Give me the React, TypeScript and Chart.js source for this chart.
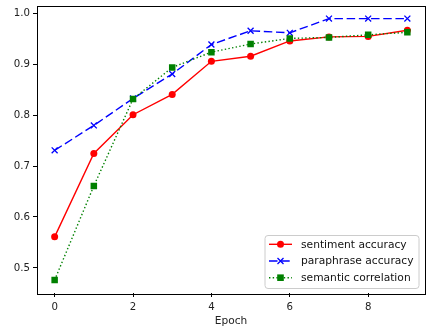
import React, { useEffect, useRef } from "react";
import { Chart, registerables } from "chart.js";

Chart.register(...registerables);

const epochs = [0, 1, 2, 3, 4, 5, 6, 7, 8, 9];
const sentimentAccuracy = [0.561, 0.725, 0.801, 0.841, 0.906, 0.916, 0.946, 0.954, 0.955, 0.967];
const paraphraseAccuracy = [0.731, 0.780, 0.833, 0.881, 0.939, 0.966, 0.962, 0.990, 0.990, 0.990];
const semanticCorrelation = [0.476, 0.661, 0.832, 0.894, 0.924, 0.940, 0.951, 0.953, 0.958, 0.963];
const xTicks = [0, 2, 4, 6, 8];
const yTicks = [0.5, 0.6, 0.7, 0.8, 0.9, 1.0];
const seriesNames = ["sentiment accuracy", "paraphrase accuracy", "semantic correlation"];
const xTitle = "Epoch";

const FONT = "DejaVu Sans";
const RED = "#ff0000";
const BLUE = "#0000ff";
const GREEN = "#008000";

function drawMarker(ctx: CanvasRenderingContext2D, style: string, x: number, y: number, color: string) {
  ctx.save();
  ctx.fillStyle = color;
  ctx.strokeStyle = color;
  ctx.setLineDash([]);
  if (style === "circle") {
    ctx.beginPath();
    ctx.arc(x, y, 3.5, 0, Math.PI * 2);
    ctx.fill();
  } else if (style === "rect") {
    ctx.fillRect(x - 3.3, y - 3.3, 6.6, 6.6);
  } else {
    ctx.lineWidth = 1.3;
    const d = 3;
    ctx.beginPath();
    ctx.moveTo(x - d, y - d);
    ctx.lineTo(x + d, y + d);
    ctx.moveTo(x - d, y + d);
    ctx.lineTo(x + d, y - d);
    ctx.stroke();
  }
  ctx.restore();
}

const framePlugin = {
  id: "frameAndLegend",
  afterDatasetsDraw(chart: any) {
    const { ctx, chartArea } = chart;
    const { left, top, right, bottom } = chartArea;
    ctx.save();
    ctx.strokeStyle = "#000";
    ctx.lineWidth = 1;
    ctx.strokeRect(Math.round(left) + 0.5, Math.round(top) + 0.5, Math.round(right - left), Math.round(bottom - top));

    // legend
    const bw = 154;
    const bh = 53;
    const bx = right - 6 - bw;
    const by = bottom - 4.5 - bh;
    const r = 3;
    ctx.beginPath();
    ctx.moveTo(bx + r, by);
    ctx.lineTo(bx + bw - r, by);
    ctx.quadraticCurveTo(bx + bw, by, bx + bw, by + r);
    ctx.lineTo(bx + bw, by + bh - r);
    ctx.quadraticCurveTo(bx + bw, by + bh, bx + bw - r, by + bh);
    ctx.lineTo(bx + r, by + bh);
    ctx.quadraticCurveTo(bx, by + bh, bx, by + bh - r);
    ctx.lineTo(bx, by + r);
    ctx.quadraticCurveTo(bx, by, bx + r, by);
    ctx.closePath();
    ctx.fillStyle = "rgba(255,255,255,0.8)";
    ctx.fill();
    ctx.strokeStyle = "#cccccc";
    ctx.lineWidth = 1;
    ctx.stroke();

    const items = chart.data.datasets.map((ds: any) => ({
      label: ds.label,
      color: ds.borderColor,
      dash: ds.borderDash || [],
      style: ds.pointStyle,
    }));
    items.forEach((it: any, i: number) => {
      const cy = by + 8.8 + i * 16.7;
      ctx.save();
      ctx.strokeStyle = it.color;
      ctx.lineWidth = 1.4;
      ctx.setLineDash(it.dash);
      ctx.beginPath();
      ctx.moveTo(bx + 4, cy);
      ctx.lineTo(bx + 27, cy);
      ctx.stroke();
      ctx.restore();
      drawMarker(ctx, it.style, bx + 15.5, cy, it.color);
      ctx.fillStyle = "#111";
      ctx.font = `10.7px "${FONT}"`;
      ctx.textBaseline = "middle";
      ctx.textAlign = "left";
      ctx.fillText(it.label, bx + 36, cy + 0.5);
    });
    ctx.restore();
  },
};

export default function App() {
  const ref = useRef<HTMLCanvasElement>(null);
  useEffect(() => {
    if (!ref.current) return;
    const mk = (d: number[]) => d.map((v, i) => ({ x: epochs[i], y: v }));
    const chart = new Chart(ref.current, {
      type: "line",
      data: {
        datasets: [
          {
            label: seriesNames[0],
            data: mk(sentimentAccuracy),
            borderColor: RED,
            backgroundColor: RED,
            borderWidth: 1.4,
            pointStyle: "circle",
            pointRadius: 3.5,
            pointBackgroundColor: RED,
            pointBorderColor: RED,
            pointBorderWidth: 0,
            order: 2,
          },
          {
            label: seriesNames[1],
            data: mk(paraphraseAccuracy),
            borderColor: BLUE,
            backgroundColor: BLUE,
            borderWidth: 1.4,
            borderDash: [8.5, 3.7],
            pointStyle: "crossRot",
            pointRadius: 4.2,
            pointBackgroundColor: BLUE,
            pointBorderColor: BLUE,
            pointBorderWidth: 1.3,
            order: 1,
          },
          {
            label: seriesNames[2],
            data: mk(semanticCorrelation),
            borderColor: GREEN,
            backgroundColor: GREEN,
            borderWidth: 1.4,
            borderDash: [1.4, 2.3],
            pointStyle: "rect",
            pointRadius: 4.6,
            pointBackgroundColor: GREEN,
            pointBorderColor: GREEN,
            pointBorderWidth: 0,
            order: 0,
          },
        ],
      },
      options: {
        animation: false,
        responsive: false,
        events: [],
        layout: { padding: { top: 4, right: 8, left: 0, bottom: 0 } },
        plugins: {
          legend: { display: false },
          tooltip: { enabled: false },
          title: { display: false },
        },
        scales: {
          x: {
            type: "linear",
            min: -0.45,
            max: 9.45,
            afterFit: (s: any) => { s.height = 40; s.paddingLeft = 0; s.paddingRight = 0; },
            afterBuildTicks: (s: any) => { s.ticks = xTicks.map((v) => ({ value: v })); },
            grid: { drawOnChartArea: false, drawTicks: true, tickLength: 4, color: "#000", lineWidth: 1 },
            border: { display: false },
            ticks: {
              autoSkip: false,
              maxRotation: 0,
              padding: 4,
              color: "#222",
              font: { family: FONT, size: 10.2 },
              callback: (v: any) => String(v),
            },
            title: {
              display: true,
              text: xTitle,
              color: "#222",
              font: { family: FONT, size: 10.6 },
              padding: { top: 0, bottom: 5 },
            },
          },
          y: {
            type: "linear",
            min: 0.4506,
            max: 1.0157,
            afterFit: (s: any) => { s.width = 37; s.paddingTop = 0; s.paddingBottom = 0; },
            afterBuildTicks: (s: any) => { s.ticks = yTicks.map((v) => ({ value: v })); },
            grid: { drawOnChartArea: false, drawTicks: true, tickLength: 4, color: "#000", lineWidth: 1 },
            border: { display: false },
            ticks: {
              autoSkip: false,
              padding: 3,
              color: "#222",
              font: { family: FONT, size: 10.2 },
              callback: (v: any) => Number(v).toFixed(1),
            },
          },
        },
      },
      plugins: [framePlugin],
    } as any);
    return () => chart.destroy();
  }, []);
  return (
    <div style={{ position: "fixed", left: 0, top: 0, width: 433, height: 333, background: "#fff" }}>
      <canvas ref={ref} width={433} height={333} style={{ display: "block" }} />
    </div>
  );
}
